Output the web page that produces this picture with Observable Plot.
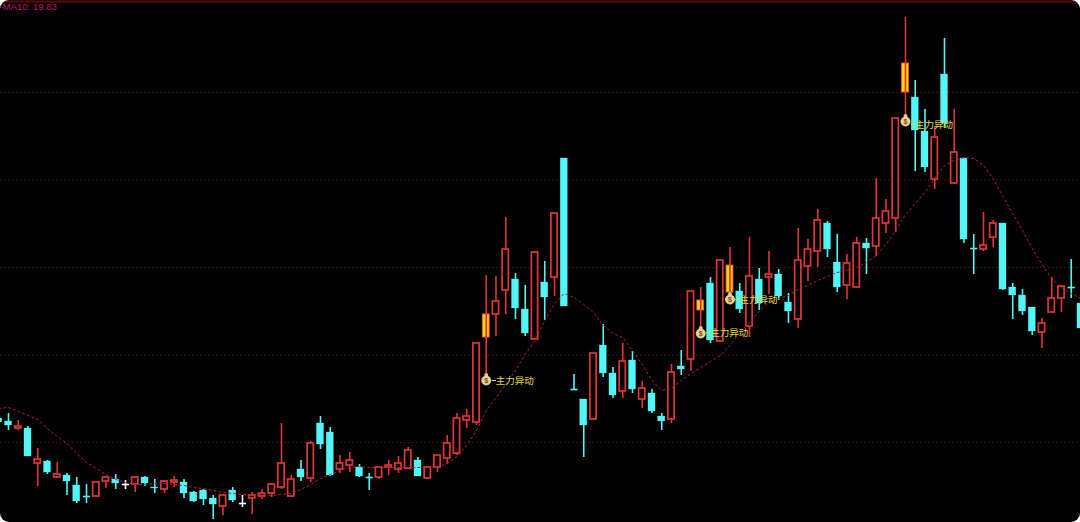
<!DOCTYPE html>
<html><head><meta charset="utf-8">
<script src="https://cdn.jsdelivr.net/npm/d3@7"></script>
<script src="https://cdn.jsdelivr.net/npm/@observablehq/plot@0.6"></script>
<style>html,body{margin:0;padding:0;background:#fff}svg{display:block;border-radius:9px}</style>
</head><body><div id="chart"></div><script>
const highs=[10.7,10.9,10.2,9.6,7.4,6.2,6.0,4.9,4.5,3.8,4.0,4.6,4.8,4.2,4.6,4.6,4.3,4.2,4.6,4.3,3.1,3.3,2.7,2.8,3.5,2.7,3.0,3.3,3.9,9.9,4.7,6.2,8.1,10.6,9.5,6.7,7.0,5.8,4.9,5.5,6.2,6.6,7.5,6.5,5.6,6.7,8.7,10.9,11.3,17.9,24.7,24.6,30.5,24.9,23.7,27.0,26.1,30.9,36.4,14.8,12.3,16.9,19.8,15.5,17.9,17.1,14.1,13.3,10.9,15.8,17.2,23.1,23.5,24.5,26.2,27.5,23.9,28.5,25.4,27.1,25.3,22.9,29.4,28.3,31.3,30.1,28.8,26.8,28.5,28.4,34.4,32.3,40.4,50.5,44.2,41.3,39.5,48.4,41.3,36.4,28.8,31.0,30.2,29.9,23.9,23.3,21.5,20.4,24.5,23.6,26.3,21.9];
const lows=[9.7,9.2,9.2,6.6,3.6,4.8,4.4,2.7,1.9,1.9,2.5,3.4,3.3,3.3,3.0,3.6,2.9,2.9,3.5,2.4,2.0,1.7,0.3,0.7,2.0,1.5,0.8,2.3,2.5,3.3,2.5,4.1,4.0,7.3,4.6,4.9,5.0,4.5,3.2,4.3,4.7,4.9,5.3,4.6,4.3,5.0,5.8,6.7,9.4,9.7,14.5,18.6,20.8,20.3,18.6,18.3,20.2,22.6,21.6,13.2,6.5,10.3,14.5,12.4,12.4,12.9,11.4,10.9,9.2,9.9,14.7,15.1,19.0,17.9,18.1,22.9,20.9,18.5,21.2,22.8,22.2,19.9,19.4,24.1,25.5,26.5,23.0,22.3,23.5,24.8,26.6,28.9,29.0,40.7,35.1,35.0,33.3,39.4,33.9,27.9,24.8,27.1,27.5,23.2,20.3,20.7,18.7,17.4,21.0,21.0,22.4,19.4];
const opens=[10.4,10.1,9.4,9.4,5.9,6.1,4.5,4.7,3.7,2.6,2.6,4.1,4.3,3.8,3.8,4.5,3.5,3.3,4.0,4.0,3.0,3.2,2.4,1.6,3.2,1.9,2.4,2.6,2.9,3.5,2.6,5.3,4.4,9.9,9.0,5.3,5.7,5.5,4.5,4.5,5.5,5.3,5.4,6.2,4.4,5.5,6.4,6.9,10.2,10.0,18.5,20.8,23.2,24.3,21.3,18.3,24.0,24.5,36.4,13.3,12.3,10.3,17.7,14.9,13.1,16.2,12.3,12.9,10.6,10.3,15.6,16.3,21.2,23.9,18.1,23.0,23.1,19.6,24.3,24.5,24.8,22.0,20.3,25.6,27.1,29.9,26.0,23.7,23.5,27.9,27.6,29.9,30.4,43.0,42.5,39.1,34.3,44.8,33.9,36.4,27.4,27.3,28.5,29.9,23.5,22.7,21.5,19.0,21.0,22.4,23.5,21.9];
const closes=[10.0,9.7,9.6,6.6,6.3,5.0,4.8,4.1,2.1,2.6,4.0,4.5,3.9,3.8,4.5,3.9,3.4,4.1,4.2,2.9,2.1,2.3,1.8,2.7,2.2,1.9,2.7,2.9,3.8,5.9,4.3,4.5,7.9,7.8,4.7,5.9,6.2,4.6,4.5,5.5,5.7,5.9,7.2,4.6,5.5,6.7,7.9,10.4,10.6,17.9,20.8,22.1,27.3,21.4,18.9,27.0,22.5,30.9,21.6,13.3,9.7,16.9,14.9,12.7,16.1,13.3,13.4,11.1,10.1,15.0,15.3,23.1,22.2,18.2,26.2,25.7,21.3,24.6,21.9,24.8,22.6,21.1,26.2,27.3,30.2,27.3,23.5,25.9,27.9,27.4,30.4,31.1,40.4,45.9,39.2,35.5,38.5,39.9,37.0,28.3,27.4,27.7,29.9,23.3,22.7,21.1,19.1,19.9,22.4,23.6,23.5,19.4];
const ma10=[11.4,11.5,11.1,10.7,10.3,9.4,8.6,7.9,6.9,6.0,5.4,4.8,4.3,4.0,3.8,3.8,3.9,3.9,3.8,3.7,3.5,3.4,3.2,3.0,2.9,2.8,2.8,2.8,2.7,2.8,2.9,3.3,3.8,4.4,4.8,5.2,5.5,5.6,5.5,5.5,5.5,5.5,5.5,5.5,5.5,5.5,5.9,6.6,7.7,9.2,11.2,12.5,13.8,15.2,16.8,18.2,20.2,21.9,22.9,22.5,21.8,21.0,19.7,18.9,18.5,17.2,15.8,14.2,13.2,13.4,14.2,14.9,15.5,16.1,16.7,17.7,19.0,20.0,21.1,22.1,22.4,22.7,23.3,23.7,24.2,24.6,25.0,25.2,25.5,26.0,26.7,27.8,29.2,30.8,31.9,33.0,34.4,35.7,36.2,36.5,36.4,35.7,34.4,32.6,30.9,29.2,27.4,25.8,24.4,23.5,22.9,22.4];
const gridLevels=[43,34.25,25.5,16.75,8];
const signalIdx=[50,72,75,93];
const signalY=[14.3,19.0,22.4,40.2];
const signalTextY=[14.2,19.0,22.3,39.8];
const whiteDoji=[13,25];
const signalLabel="主力异动";
const maLabel="MA10: 19.83";

const RED="#de3636",CYAN="#52f6f6",ORANGE="#ffd420";
const rows=highs.map((h,j)=>({j,h,l:lows[j],o:opens[j],c:closes[j],
  top:Math.max(opens[j],closes[j]),bot:Math.min(opens[j],closes[j]),
  signal:signalIdx.includes(j)}));
const col=d=>d.signal?RED:d.c>d.o?RED:d.c<d.o?CYAN:whiteDoji.includes(d.j)?"#ffffff":CYAN;
const ups=rows.filter(d=>d.c>d.o&&!d.signal);
const downs=rows.filter(d=>d.c<d.o&&!d.signal);
const dojis=rows.filter(d=>d.c===d.o);
const sig=rows.filter(d=>d.signal);
const flags=signalIdx.map((j,k)=>({j,y:signalY[k],ty:signalTextY[k]}));

const fig=Plot.plot({
  width:1080,height:522,margin:0,
  style:{background:"#000"},
  x:{axis:null,domain:[0.18,110.95]},
  y:{axis:null,domain:[0,52.2]},
  marks:[
    Plot.ruleY(gridLevels,{stroke:"#5a1212",strokeWidth:1,strokeDasharray:"1.5,2.5"}),
    Plot.ruleY([52.1],{stroke:"#5c0a12",strokeWidth:2}),
    Plot.ruleX(rows,{x:"j",y1:"l",y2:"h",stroke:col,strokeWidth:1.6}),
    Plot.rect(ups,{x1:d=>d.j-0.32,x2:d=>d.j+0.32,y1:"bot",y2:"top",fill:"#000",stroke:RED,strokeWidth:1.7}),
    Plot.rect(downs,{x1:d=>d.j-0.36,x2:d=>d.j+0.36,y1:"bot",y2:"top",fill:CYAN,stroke:CYAN,strokeWidth:0.3}),
    Plot.link(dojis,{x1:d=>d.j-0.37,x2:d=>d.j+0.37,y1:"o",y2:"o",stroke:col,strokeWidth:1.6}),
    Plot.rect(sig,{x1:d=>d.j-0.35,x2:d=>d.j+0.35,y1:"bot",y2:"top",fill:ORANGE,stroke:"#f06020",strokeWidth:0.9}),
    Plot.ruleX(sig,{x:"j",y1:"bot",y2:"top",stroke:"#e8281a",strokeWidth:1.6}),
    Plot.lineY(ma10,{x:(d,j)=>j,y:d=>d,stroke:"#b02040",strokeWidth:1,strokeDasharray:"2,3"}),
    Plot.link(flags,{x1:d=>d.j+0.55,x2:d=>d.j+1.0,y1:"ty",y2:"ty",stroke:"#e0d840",strokeWidth:1}),
    Plot.dot(flags,{x:"j",y:d=>d.y+0.45,r:2,fill:"#e0c27a"}),
    Plot.dot(flags,{x:"j",y:d=>d.y-0.1,r:4.6,fill:"#ecd28c",stroke:"#fff4c8",strokeWidth:0.6}),
    Plot.text(flags,{x:"j",y:d=>d.y-0.1,text:()=>"$",fontSize:7,fontWeight:"bold",fill:"#6a5020",fontFamily:"Liberation Sans"}),
    Plot.text(flags,{x:"j",y:"ty",dx:9.5,text:()=>signalLabel,textAnchor:"start",fontSize:9.5,fill:"#e0d840",fontFamily:"Noto Sans CJK SC"}),
    Plot.text([maLabel],{frameAnchor:"top-left",dx:2,dy:3,text:d=>d,fontSize:9.6,fill:"#c4106e",fontFamily:"Liberation Sans"})
  ]
});
document.getElementById("chart").append(fig);
</script></body></html>
